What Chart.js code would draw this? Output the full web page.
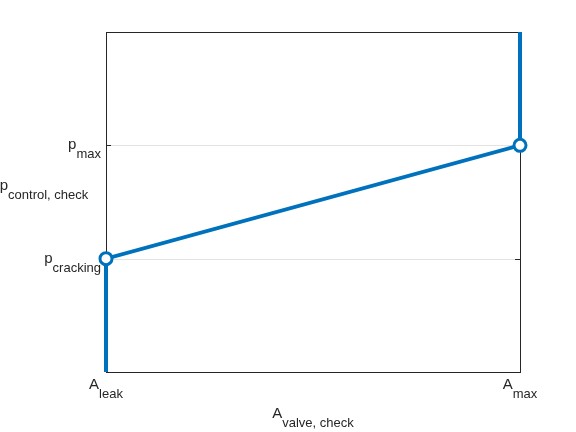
<!DOCTYPE html>
<html>
<head>
<meta charset="utf-8">
<script src="https://cdn.jsdelivr.net/npm/chart.js@4"></script>
<style>
  html, body { margin: 0; padding: 0; background: #fff; }
  #wrap { width: 576px; height: 432px; }
</style>
</head>
<body>
<div id="wrap"><canvas id="c" width="576" height="432"></canvas></div>
<script>
// --- data ---
const xValues = [0, 0, 1, 1];          // A_leak .. A_max
const yValues = [0, 1, 2, 3];          // bottom, p_cracking, p_max, top
const markerRadius = [0, 6, 6, 0];     // circles only at the two corners

const xTickValues = [0, 1];
const xTickLabels = [['A', 'leak'], ['A', 'max']];
const yTickValues = [1, 2];
const yTickLabels = [['p', 'cracking'], ['p', 'max']];

const xTitle = ['A', 'valve, check'];
const yTitle = ['p', 'control, check'];

const FONT = '"Liberation Sans", Arial, Helvetica, sans-serif';
const TEXT = '#262626';
const BLUE = '#0072BD';

// main text + subscript, x is anchor, align = left/center/right
function drawSub(ctx, parts, x, y, align) {
  ctx.font = '15px ' + FONT;
  const w1 = ctx.measureText(parts[0]).width;
  ctx.font = '13px ' + FONT;
  const w2 = ctx.measureText(parts[1]).width;
  const total = w1 + w2;
  let left = x;
  if (align === 'center') left = x - total / 2;
  if (align === 'right') left = x - total;
  ctx.textAlign = 'left';
  ctx.textBaseline = 'alphabetic';
  ctx.fillStyle = TEXT;
  ctx.font = '15px ' + FONT;
  ctx.fillText(parts[0], left, y);
  ctx.font = '13px ' + FONT;
  ctx.fillText(parts[1], left + w1, y + 9);
}

const axesPlugin = {
  id: 'matlabAxes',
  beforeDatasetsDraw(chart) {
    const ctx = chart.ctx;
    const a = chart.chartArea;
    const ys = chart.scales.y;
    ctx.save();
    // gridlines
    ctx.strokeStyle = '#e3e3e3';
    ctx.lineWidth = 1;
    yTickValues.forEach(v => {
      const py = Math.round(ys.getPixelForValue(v)) + 0.5;
      ctx.beginPath();
      ctx.moveTo(a.left, py);
      ctx.lineTo(a.right, py);
      ctx.stroke();
    });
    // box
    ctx.strokeStyle = TEXT;
    ctx.strokeRect(Math.round(a.left) + 0.5, Math.round(a.top) + 0.5,
      Math.round(a.right - a.left), Math.round(a.bottom - a.top));
    // inward tick marks
    ctx.beginPath();
    yTickValues.forEach(v => {
      const py = Math.round(ys.getPixelForValue(v)) + 0.5;
      ctx.moveTo(a.left, py); ctx.lineTo(a.left + 5, py);
      ctx.moveTo(a.right, py); ctx.lineTo(a.right - 5, py);
    });
    ctx.stroke();
    ctx.restore();
  },
  afterDraw(chart) {
    const ctx = chart.ctx;
    const a = chart.chartArea;
    const xs = chart.scales.x, ys = chart.scales.y;
    ctx.save();
    xTickValues.forEach((v, i) => {
      drawSub(ctx, xTickLabels[i], xs.getPixelForValue(v), a.bottom + 17, 'center');
    });
    yTickValues.forEach((v, i) => {
      drawSub(ctx, yTickLabels[i], a.left - 5, ys.getPixelForValue(v) + 4, 'right');
    });
    drawSub(ctx, xTitle, (a.left + a.right) / 2, a.bottom + 46, 'center');
    drawSub(ctx, yTitle, 44, 190, 'center');
    ctx.restore();
  }
};

new Chart(document.getElementById('c'), {
  type: 'line',
  data: {
    datasets: [{
      data: xValues.map((x, i) => ({ x: x, y: yValues[i] })),
      borderColor: BLUE,
      borderWidth: 4,
      pointRadius: markerRadius,
      pointHoverRadius: markerRadius,
      pointBorderColor: BLUE,
      pointBackgroundColor: '#ffffff',
      pointBorderWidth: 3,
      tension: 0,
      clip: false
    }]
  },
  options: {
    responsive: false,
    animation: false,
    events: [],
    layout: { padding: { left: 106, right: 56, top: 32, bottom: 60 } },
    plugins: { legend: { display: false }, tooltip: { enabled: false } },
    scales: {
      x: { type: 'linear', min: 0, max: 1, display: false },
      y: { type: 'linear', min: 0, max: 3, display: false }
    }
  },
  plugins: [axesPlugin]
});
</script>
</body>
</html>
